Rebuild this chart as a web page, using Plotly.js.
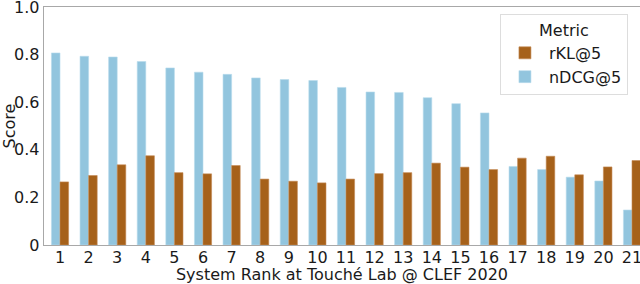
<!DOCTYPE html>
<html>
<head>
<meta charset="utf-8">
<script src="https://cdn.plot.ly/plotly-3.0.1.min.js"></script>
<style>html,body{margin:0;padding:0;background:#fff;}#chart{width:640px;height:284px;}</style>
</head>
<body>
<div id="chart"></div>
<script>
const ranks = ["1","2","3","4","5","6","7","8","9","10","11","12","13","14","15","16","17","18","19","20","21"];
const ndcg5 = [0.807,0.793,0.790,0.771,0.744,0.726,0.717,0.702,0.695,0.691,0.662,0.643,0.641,0.619,0.594,0.555,0.330,0.317,0.285,0.269,0.147];
const rkl5 = [0.265,0.292,0.337,0.375,0.304,0.299,0.334,0.277,0.268,0.261,0.277,0.300,0.304,0.344,0.327,0.317,0.365,0.373,0.295,0.328,0.355];
const yTicks = [0,0.2,0.4,0.6,0.8,1.0];
const yTickText = ["0","0.2","0.4","0.6","0.8","1.0"];

const font = {family: "DejaVu Sans", size: 16, color: "#1a1a1a"};
const traces = [
  {type: "bar", name: "nDCG@5", x: ranks, y: ndcg5,
   marker: {color: "#92c5de", line: {color: "#b8dcec", width: 0.6}}},
  {type: "bar", name: "rKL@5", x: ranks, y: rkl5,
   marker: {color: "#a6611a", line: {color: "#c48a55", width: 0.6}}}
];
const layout = {
  width: 640, height: 284,
  margin: {l: 44, r: 0, t: 7, b: 39},
  paper_bgcolor: "#fff", plot_bgcolor: "#fff",
  font: font,
  barmode: "group", bargap: 0.4, bargroupgap: 0,
  showlegend: true,
  legend: {
    x: 0.765, y: 0.97, xanchor: "left", yanchor: "top",
    traceorder: "reversed", itemwidth: 38,
    title: {text: "Metric", side: "top center", font: font},
    bgcolor: "#fff", bordercolor: "#dddddd", borderwidth: 1,
    font: font, tracegroupgap: 0
  },
  xaxis: {
    type: "category", range: [-0.56, 20.28],
    showgrid: false, zeroline: false,
    showline: true, linecolor: "#a8a8a8", linewidth: 1.3, mirror: true,
    ticks: "", ticklabelstandoff: -3,
    tickfont: font, ticklabeloverflow: "allow",
    title: {text: "System Rank at Touché Lab @ CLEF 2020", font: font, standoff: 4}
  },
  yaxis: {
    range: [0, 1.0],
    tickvals: yTicks, ticktext: yTickText,
    showgrid: false, zeroline: false,
    showline: true, linecolor: "#a8a8a8", linewidth: 1.3, mirror: true,
    ticks: "", ticklabelstandoff: 0,
    tickfont: font, ticklabeloverflow: "allow",
    title: {text: "Score", font: font, standoff: 4}
  }
};
Plotly.newPlot("chart", traces, layout, {displayModeBar: false, staticPlot: true});
</script>
</body>
</html>
